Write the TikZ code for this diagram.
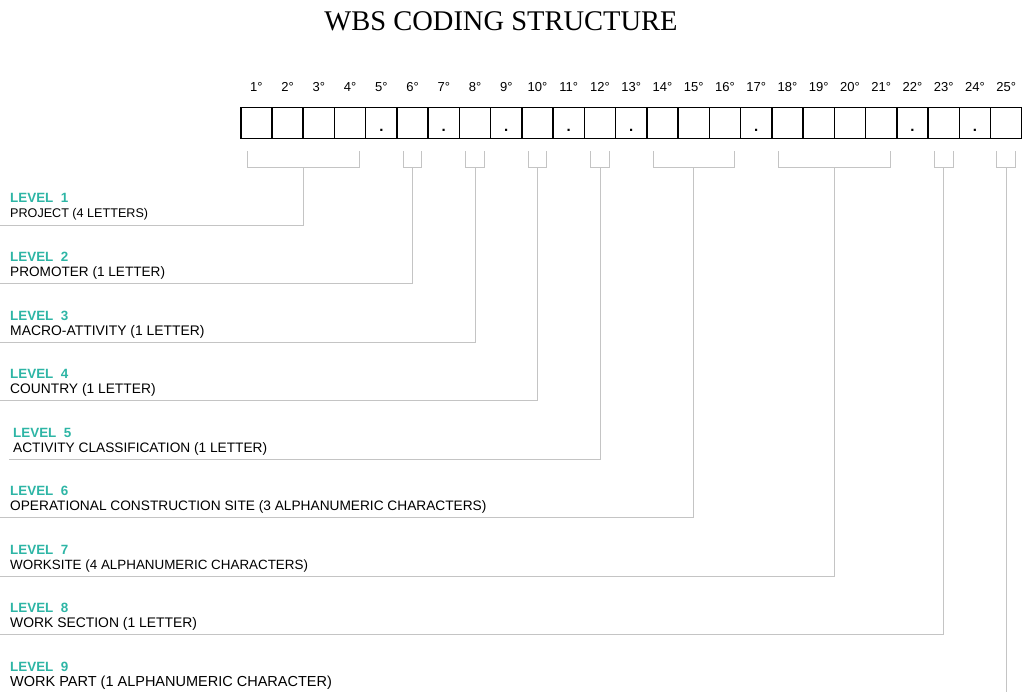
\documentclass[tikz,border=0pt]{standalone}
\usepackage{fontspec}
\setmainfont{Liberation Sans}
\newfontfamily\titlefont{Liberation Serif}
\usetikzlibrary{positioning, calc}

\definecolor{levelteal}{HTML}{2DB5A5}
\definecolor{linegray}{HTML}{C4C4C4}

\begin{document}
\begin{tikzpicture}[x=1pt, y=-1pt,
    cell/.style={draw, line width=1.5pt, minimum width=31.24pt, minimum height=31pt,
                 inner sep=0pt, anchor=north west},
    num/.style={inner sep=0pt, font=\fontsize{13}{15}\selectfont},
    sep/.style={inner sep=0pt, anchor=base, font=\fontsize{15}{15}\selectfont\bfseries},
    lvl/.style={inner sep=0pt, anchor=base west, text=levelteal,
                font=\fontsize{13.4}{15}\selectfont\bfseries},
    desc/.style={inner sep=0pt, anchor=base west, font=\fontsize{#1}{15}\selectfont},
    desc/.default=13.7,
    link/.style={draw=linegray, line width=0.9pt}
]
\useasboundingbox (0,0) rectangle (1022,692);

% Title
\node[font=\titlefont\fontsize{28.5}{31}\selectfont] (title) at (501,21) {WBS CODING STRUCTURE};

% Code cells
\foreach \i in {1,...,25} {
    \node[cell] (c\i) at ({240+(\i-1)*31.24},107) {};
    \node[num, above=15pt of c\i] (n\i) {\i°};
}

% Separators
\foreach \i in {5,7,9,11,13,17,22,24}
    \node[sep] (s\i) at ([yshift=-8pt]c\i.center) {.};

% Levels
\foreach \k/\a/\b/\xo/\fs/\txt in {
    1/1/4/0/12.6/{PROJECT (4 LETTERS)},
    2/6/6/0/13.6/{PROMOTER (1 LETTER)},
    3/8/8/0/13.9/{MACRO-ATTIVITY (1 LETTER)},
    4/10/10/0/13.8/{COUNTRY (1 LETTER)},
    5/12/12/3/13.7/{ACTIVITY CLASSIFICATION (1 LETTER)},
    6/14/16/0/13.7/{OPERATIONAL CONSTRUCTION SITE (3 ALPHANUMERIC CHARACTERS)},
    7/18/21/0/13.4/{WORKSITE (4 ALPHANUMERIC CHARACTERS)},
    8/23/23/0/13.9/{WORK SECTION (1 LETTER)},
    9/25/25/0/14.5/{WORK PART (1 ALPHANUMERIC CHARACTER)}} {
    \pgfmathsetmacro\ly{225+58.5*(\k-1)}
    \node[lvl] (lv\k) at (10+\xo,\ly-22) {LEVEL\ \ \k};
    \node[desc=\fs] (ds\k) at (10+\xo,\ly-7) {\txt};
    % bracket under the cells
    \coordinate (bl\k) at ([xshift=7pt,yshift=-12pt]c\a.south west);
    \coordinate (br\k) at ([xshift=-7pt,yshift=-12pt]c\b.south east);
    \coordinate (bm\k) at ($(bl\k)!0.5!(br\k)+(0,16)$);
    \coordinate (e\k) at (3*\xo,\ly);
    \draw[link] (bl\k) -- ++(0,16) -| (br\k);
    \draw[link] (bm\k) |- (e\k);
}

\end{tikzpicture}
\end{document}
